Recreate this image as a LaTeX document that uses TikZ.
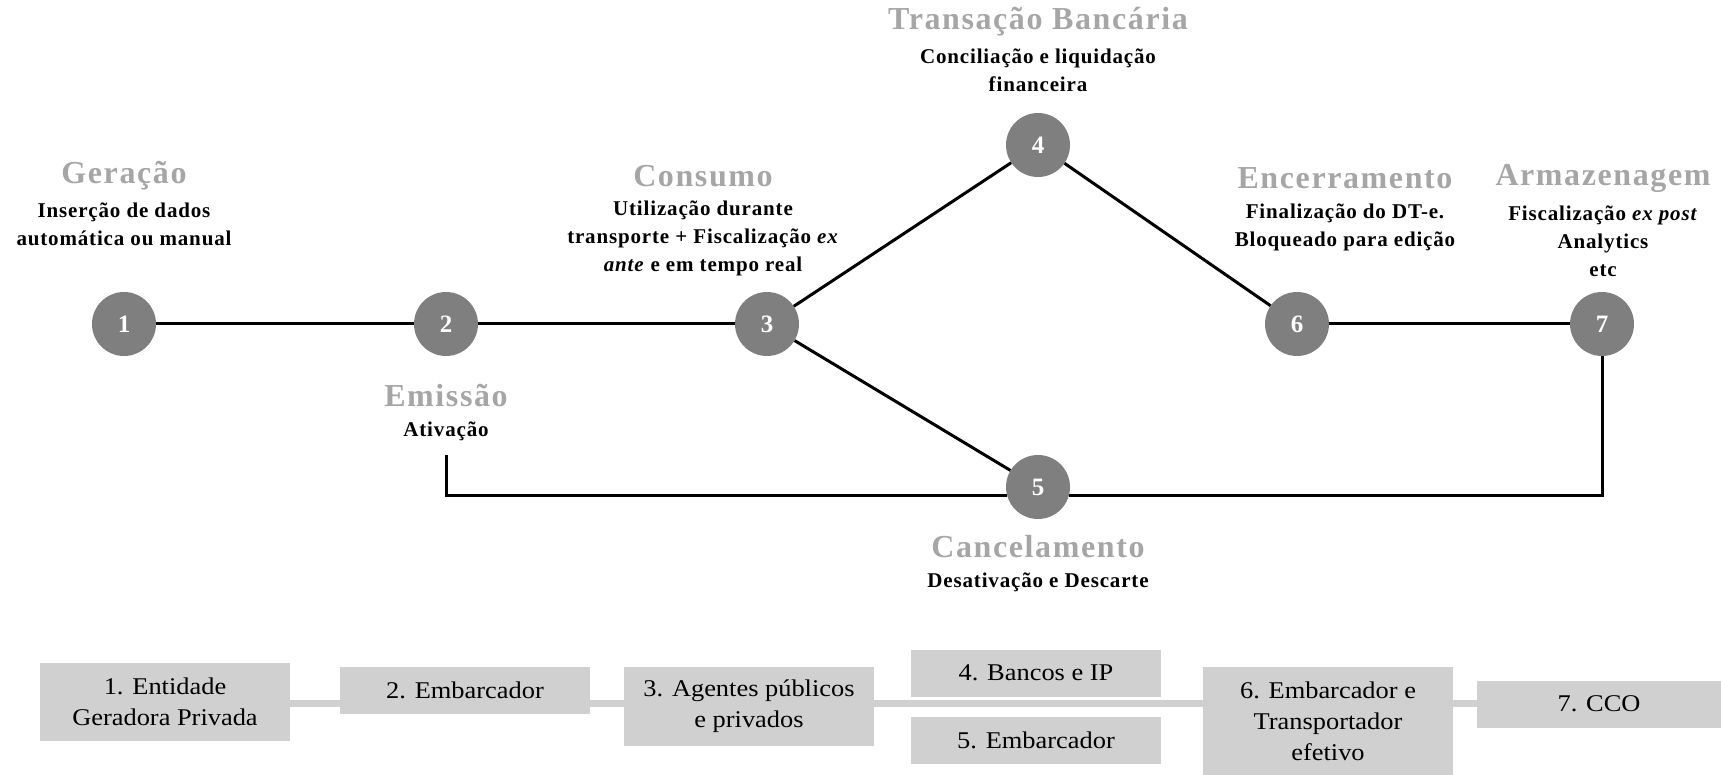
\documentclass[tikz,border=0pt]{standalone}
\usepackage{fontspec}
\setmainfont{Liberation Serif}
\newfontfamily\titlefont[LetterSpace=5]{Liberation Serif}
\newfontfamily\descfont[LetterSpace=4]{Liberation Serif}
\newfontfamily\boxfont[FakeStretch=1.1]{Liberation Serif}
\definecolor{titlegray}{RGB}{166,166,166}
\definecolor{circgray}{RGB}{127,127,127}
\definecolor{boxgray}{RGB}{208,208,208}
\tikzset{
  circ/.style={circle, fill=circgray, minimum size=64pt, inner sep=0pt, text=white,
    font=\bfseries\fontsize{25}{30}\selectfont},
  link/.style={line width=3pt, black},
  ttl/.style={text=titlegray, inner sep=0pt, font=\titlefont\bfseries\fontsize{32}{36}\selectfont},
  dsc/.style={align=center, inner sep=0pt, font=\descfont\bfseries\fontsize{21}{28}\selectfont},
  boxn/.style={fill=boxgray, minimum width=250pt, align=center, inner sep=0pt,
    font=\boxfont\fontsize{24}{31}\selectfont},
  bar/.style={line width=7pt, boxgray},
}
\begin{document}
\begin{tikzpicture}[x=1pt,y=-1pt]
\useasboundingbox (0,0) rectangle (1721,775);
% circles
\node[circ] (n1) at (124,324) {1};
\node[circ] (n2) at (446,324) {2};
\node[circ] (n3) at (767,324) {3};
\node[circ] (n4) at (1038,145) {4};
\node[circ] (n5) at (1038,487) {5};
\node[circ] (n6) at (1297,324) {6};
\node[circ] (n7) at (1602,324) {7};
% titles and descriptions
\node[ttl] (t1) at (124,176) {Geração};
\node[dsc] (d1) at (124,224) {Inserção de dados\\automática ou manual};
\node[ttl] (t2) at (446,396) {Emissão};
\node[dsc] (d2) at (446,431) {Ativação};
\node[ttl] (t3) at (703,176) {Consumo};
\node[dsc] (d3) at (703,238) {Utilização durante\\transporte + Fiscalização \textit{ex}\\\textit{ante} e em tempo real};
\node[ttl] (t4) at (1038,22) {Transação Bancária};
\node[dsc] (d4) at (1038,70) {Conciliação e liquidação\\financeira};
\node[ttl] (t5) at (1038,547) {Cancelamento};
\node[dsc] (d5) at (1038,582) {Desativação e Descarte};
\node[ttl] (t6) at (1345,178) {Encerramento};
\node[dsc] (d6) at (1345,227) {Finalização do DT-e.\\Bloqueado para edição};
\node[ttl] (t7) at (1603,178) {Armazenagem};
\node[dsc] (d7) at (1603,241) {Fiscalização \textit{ex post}\\Analytics\\etc};
% connectors
\coordinate (e2) at (446,455);
\coordinate (cl) at (446,495);
\draw[link] (n1) -- (n2);
\draw[link] (n2) -- (n3);
\draw[link] (n3) -- (n4);
\draw[link] (n4) -- (n6);
\draw[link] (n3) -- (n5);
\draw[link] (n6) -- (n7);
\draw[link] (e2) -- (cl) -- ([xshift=1pt]n5.west |- cl);
\draw[link] (n7.south) -- (n7.south |- cl) -- ([xshift=-1pt]n5.east |- cl);
% bottom bar and boxes
\coordinate (bl) at (165,703);
\coordinate (br) at (1600,703);
\draw[bar] (bl) -- (br);
\node[boxn, minimum height=78pt] (b1) at (165,702) {1. Entidade\\Geradora Privada};
\node[boxn, minimum height=47pt] (b2) at (465,690) {2. Embarcador};
\node[boxn, minimum height=79pt] (b3) at (749,706) {3. Agentes públicos\\e privados};
\node[boxn, minimum height=47pt] (b4) at (1036,673) {4. Bancos e IP};
\node[boxn, minimum height=47pt] (b5) at (1036,740) {5. Embarcador};
\node[boxn, minimum height=108pt] (b6) at (1328,721) {6. Embarcador e\\Transportador\\efetivo};
\node[boxn, minimum height=47pt, minimum width=244pt] (b7) at (1599,704) {7. CCO};
\end{tikzpicture}
\end{document}
